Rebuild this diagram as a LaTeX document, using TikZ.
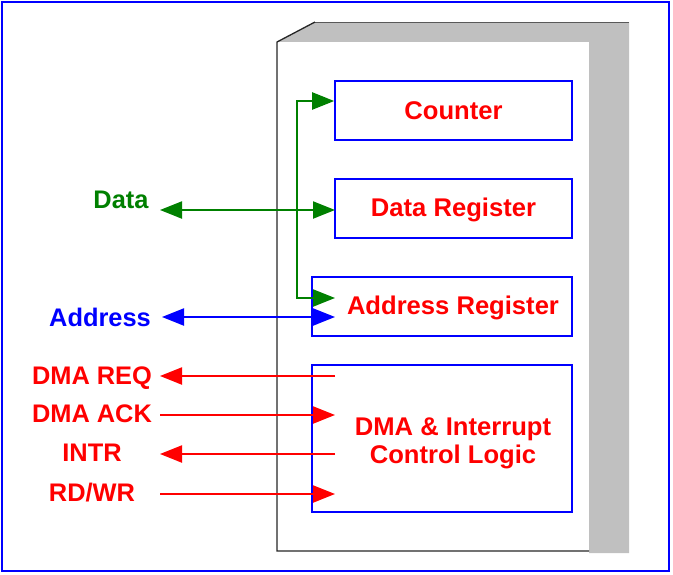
\documentclass[tikz,border=0pt]{standalone}
\usepackage{fontspec}
\setmainfont{Liberation Sans}
\usetikzlibrary{arrows.meta}
\definecolor{dgreen}{HTML}{008000}
\definecolor{sidegray}{HTML}{C0C0C0}
\tikzset{
  regbox/.style={draw=blue, line width=1.6pt, inner sep=0pt},
  regtext/.style={text=red, font=\fontsize{25.6}{28}\selectfont\bfseries, align=center},
  sig/.style={line width=2.2pt, arrows={-{Triangle[length=22pt,width=17pt]}}},
  dsig/.style={line width=2.2pt, arrows={{Triangle[length=22pt,width=17pt]}-{Triangle[length=22pt,width=17pt]}}},
  siglabel/.style={font=\fontsize{25.4}{29}\selectfont\bfseries, inner sep=0pt}
}
\begin{document}
\begin{tikzpicture}[x=1pt,y=-1pt]
\useasboundingbox (0,0) rectangle (673,574);
% outer frame
\draw[blue, line width=2pt] (2,2) rectangle (669,571);
% 3D housing
\fill[sidegray] (277,42) -- (315,22) -- (629,22) -- (629,553) -- (589,553) -- (589,42) -- cycle;
\fill[white] (277,42) rectangle (589,551);
\draw[gray!70!black, line width=1pt] (315,22) -- (629,22);
\draw[black!85, line width=1.3pt] (315,22) -- (277,42) -- (277,551) -- (589,551);
% boxes
\node[regbox, minimum width=237pt, minimum height=59pt] (counter) at (453.5,110.5) {};
\node[regtext] (cnttxt) at (453.5,111) {Counter};
\node[regbox, minimum width=237pt, minimum height=59pt] (datareg) at (453.5,208.5) {};
\node[regtext] (datatxt) at (453.5,210) {Data Register};
\node[regbox, minimum width=260pt, minimum height=59pt] (addrreg) at (442,306.5) {};
\node[regtext] (addrtxt) at (453,308) {Address Register};
\node[regbox, minimum width=260pt, minimum height=147pt] (dma) at (442,438.5) {};
\node[regtext, text depth=0pt] (dmatxt) at (453,441) {DMA \& Interrupt\\Control Logic};
% labels
\node[siglabel, text=dgreen] (data) at (121,200) {Data};
\node[siglabel, text=blue] (address) at (100,317) {Address};
\node[siglabel, text=red] (dmareq) at (92,378) {DMA REQ};
\node[siglabel, text=red] (dmaack) at (92,414) {DMA ACK};
\node[siglabel, text=red] (intr) at (92,453) {INTR};
\node[siglabel, text=red] (rdwr) at (92,493) {RD/WR};
% coordinates
\coordinate (busTop) at (297,101);
\coordinate (busBot) at (297,298);
\coordinate (cntIn) at (counter.west |- busTop);
\coordinate (addrIn) at (335,298);
\coordinate (dataL) at (160,210);
\coordinate (dataR) at (335,210);
\coordinate (addrL) at (162,317);
\coordinate (addrR) at (335,317);
\coordinate (reqL) at (160,376);
\coordinate (reqR) at (335,376);
\coordinate (ackL) at (160,415);
\coordinate (ackR) at (335,415);
\coordinate (intL) at (160,454);
\coordinate (intR) at (335,454);
\coordinate (rwL) at (160,494);
\coordinate (rwR) at (335,494);
% green bus
\draw[dsig, dgreen] (cntIn) -- (busTop) -- (busBot) -- (addrIn);
\draw[dsig, dgreen] (dataL) -- (dataR);
% address
\draw[dsig, blue] (addrL) -- (addrR);
% control
\draw[sig, red] (reqR) -- (reqL);
\draw[sig, red] (ackL) -- (ackR);
\draw[sig, red] (intR) -- (intL);
\draw[sig, red] (rwL) -- (rwR);
\end{tikzpicture}
\end{document}
